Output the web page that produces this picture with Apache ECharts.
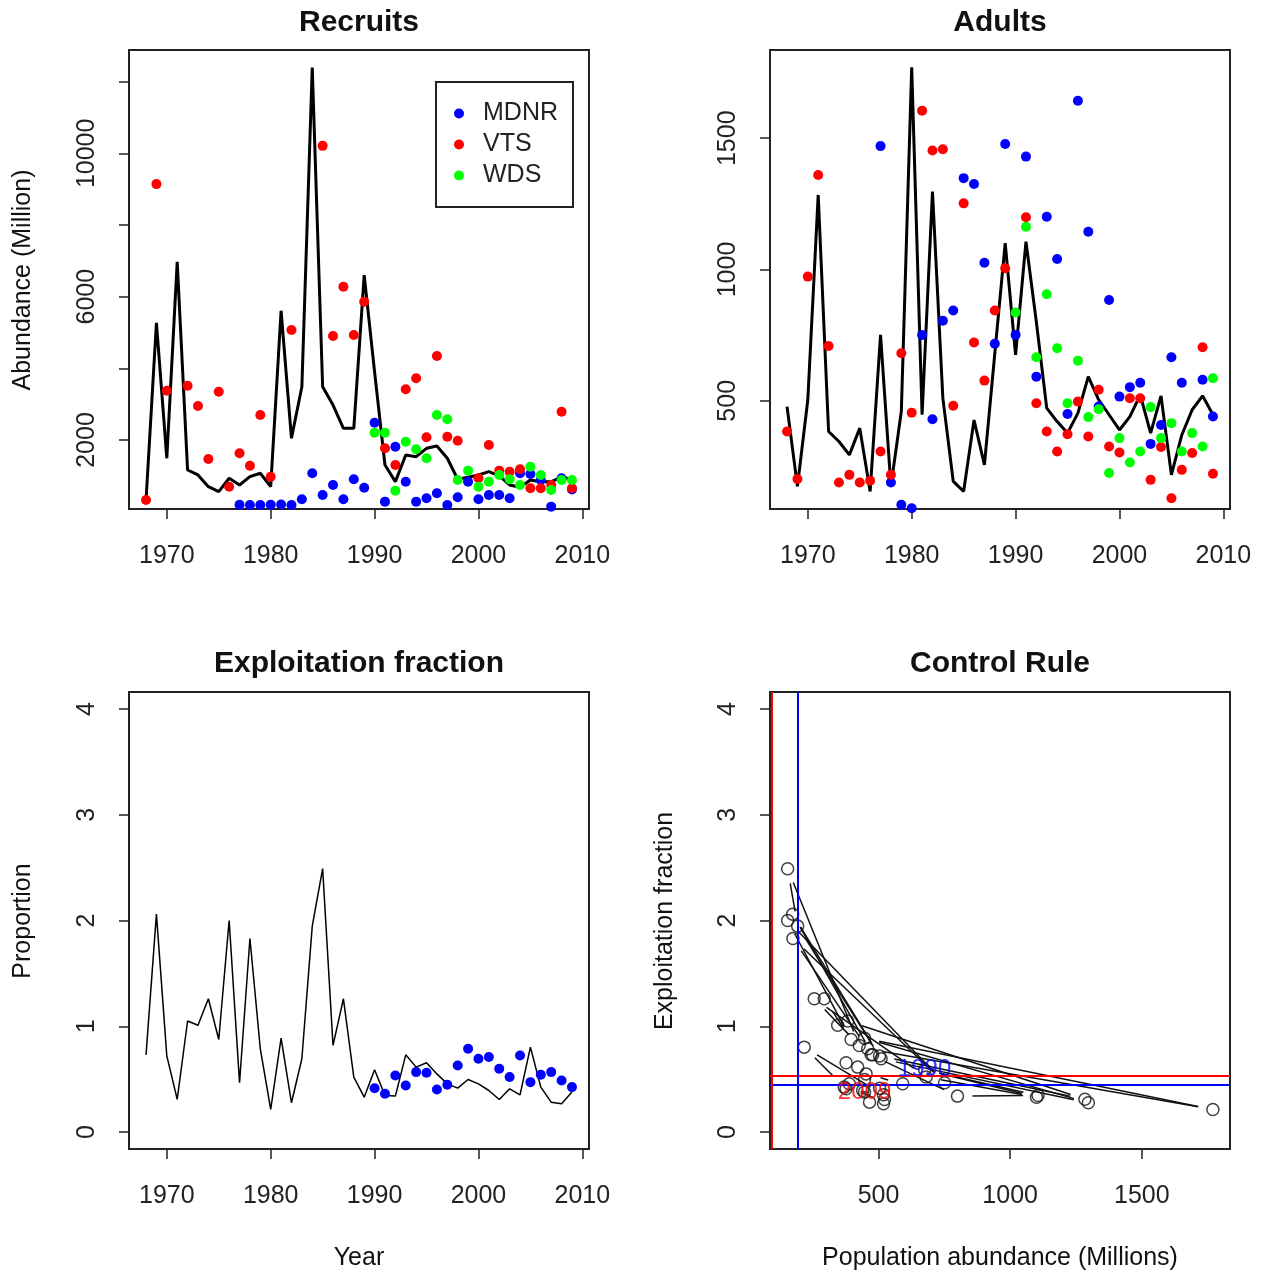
<!DOCTYPE html>
<html><head><meta charset="utf-8">
<script src="https://cdn.jsdelivr.net/npm/echarts@6/dist/echarts.min.js"></script>
<style>html,body{margin:0;padding:0;background:#fff}#c{width:1265px;height:1273px}</style>
</head><body><div id="c"></div>
<script>
// ---------------- DATA ----------------
const years = [1968,1969,1970,1971,1972,1973,1974,1975,1976,1977,1978,1979,1980,1981,1982,1983,1984,1985,1986,1987,1988,1989,
               1990,1991,1992,1993,1994,1995,1996,1997,1998,1999,2000,2001,2002,2003,2004,2005,2006,2007,2008,2009];

// Recruits (Million)
const recruitsModel = [326,5272,1490,6974,1163,1024,697,558,932,745,976,1071,697,5607,2047,3487,12396,3487,2976,2326,2326,6602,
                       3900,1303,837,1582,1534,1768,1833,1490,904,960,1024,1116,996,745,680,884,837,837,960,904];
const recruitsMDNR = [null,null,null,null,null,null,null,null,null,190,185,185,190,200,185,346,1071,466,745,346,904,665,
                      2483,279,1813,837,279,374,513,187,402,837,346,466,466,374,1071,1050,884,140,932,620];
const recruitsVTS = [326,9141,3376,null,3515,2948,1470,3347,697,1628,1283,2697,976,null,5068,null,null,10209,4901,6276,4929,5858,
                     null,1768,1303,3414,3721,2075,4343,2092,1980,null,932,1860,1144,1116,1183,653,653,745,2790,653];
const recruitsWDS = [null,null,null,null,null,null,null,null,null,null,null,null,null,null,null,null,null,null,null,null,null,null,
                     2204,2204,586,1953,1741,1490,2697,2577,884,1144,697,837,1024,904,745,1255,1024,605,884,884];

// Adults (Million)
const adultsModel = [478,174,504,1284,383,345,294,396,155,751,175,459,1770,447,1297,510,193,155,427,256,681,1100,
                     675,1106,800,472,421,377,453,592,504,447,389,440,523,377,519,218,370,466,519,447];
const adultsMDNR = [null,null,null,null,null,null,null,null,null,1470,189,104,91,751,430,805,844,1348,1326,1026,717,1478,
                    751,1430,592,1201,1040,450,1643,1144,478,884,516,552,569,336,408,666,569,null,580,440];
const adultsVTS = [383,202,973,1360,709,189,218,189,196,307,218,681,455,1605,1453,1458,481,1252,722,577,844,1005,
                   null,1199,491,383,307,373,497,364,542,326,303,510,510,199,324,129,237,301,704,222];
const adultsWDS = [null,null,null,null,null,null,null,null,null,null,null,null,null,null,null,null,null,null,null,null,null,null,
                   836,1163,666,906,700,491,653,438,468,225,358,265,307,476,358,415,307,377,326,586];

// Exploitation fraction
const exploitModel = [0.73,2.06,0.72,0.31,1.05,1.01,1.26,0.875,2.0,0.466,1.83,0.787,0.214,0.888,0.277,0.693,1.947,2.49,0.819,1.26,0.52,0.33,
                      0.59,0.346,0.34,0.73,0.614,0.655,0.55,0.456,0.415,0.497,0.456,0.393,0.308,0.409,0.352,0.803,0.425,0.283,0.267,0.378];
const exploitMDNR = [null,null,null,null,null,null,null,null,null,null,null,null,null,null,null,null,null,null,null,null,null,null,
                     0.415,0.362,0.535,0.44,0.567,0.56,0.403,0.447,0.63,0.787,0.693,0.709,0.598,0.52,0.724,0.472,0.542,0.567,0.488,0.425];

// Control rule reference lines and labelled years
const refH = [0.525, 0.453];       // red, blue
const refV = [95, 193];            // red, blue
const refColors = ['#ff0000', '#0000ff'];
const labelYears = [1990, 2009];
const labelColors = ['#0000ff', '#ff0000'];

// Tick labels
const yearTicks = [1970,1980,1990,2000,2010];
const recruitTicks = [2000,4000,6000,8000,10000,12000];
const recruitLabels = [2000,6000,10000];
const adultTicks = [500,1000,1500];
const propTicks = [0,1,2,3,4];
const popTicks = [500,1000,1500];

// ---------------- BUILD ----------------
const FONT = 'Liberation Sans, Arial, sans-serif';
const INK = '#222';
const pairs = (arr) => years.map((y,i)=> arr[i]==null ? null : [y, arr[i]]).filter(d=>d);

const grids = [
  {left:129, top:50, width:460, height:459},
  {left:770, top:50, width:460, height:459},
  {left:129, top:692, width:460, height:457},
  {left:770, top:692, width:460, height:457}
].map(g => Object.assign(g, {show:true, borderColor:INK, borderWidth:2, backgroundColor:'transparent'}));

function axis(gi, min, max, ticks, labels, isY) {
  return {
    type:'value', gridIndex:gi, min:min, max:max,
    axisLine:{show:false, onZero:false},
    splitLine:{show:false},
    axisTick:{show:true, inside:false, length:10, customValues:ticks, lineStyle:{color:INK, width:1.5}},
    axisLabel:{show:true, customValues:labels, margin: isY ? 29 : 35, fontSize:25, fontFamily:FONT, color:INK,
               rotate: isY ? 90 : 0, formatter: v => String(v)}
  };
}

const xAxes = [
  axis(0, 1966.36, 2010.64, yearTicks, yearTicks, false),
  axis(1, 1966.36, 2010.64, yearTicks, yearTicks, false),
  axis(2, 1966.36, 2010.64, yearTicks, yearTicks, false),
  axis(3, 88, 1835, popTicks, popTicks, false)
];
const yAxes = [
  axis(0, 74, 12884, recruitTicks, recruitLabels, true),
  axis(1, 88, 1836, adultTicks, adultTicks, true),
  axis(2, -0.16, 4.16, propTicks, propTicks, true),
  axis(3, -0.16, 4.16, propTicks, propTicks, true)
];

const COL = {MDNR:'#0000ff', VTS:'#ff0000', WDS:'#00ff00'};
function lineS(gi, arr, w) {
  return {type:'line', xAxisIndex:gi, yAxisIndex:gi, data:pairs(arr), showSymbol:false, symbol:'none',
          lineStyle:{color:'#000', width:w}, silent:true, z:2};
}
function dots(gi, name, arr) {
  return {type:'scatter', name:name, xAxisIndex:gi, yAxisIndex:gi, data:pairs(arr), symbol:'circle', symbolSize:10,
          itemStyle:{color:COL[name], opacity:1}, silent:true, z:3};
}

// control rule
const crPoints = adultsModel.map((n,i)=>[n, exploitModel[i]]);
const crSegs = [];
for (let i=0;i<crPoints.length-1;i++) crSegs.push([crPoints[i][0],crPoints[i][1],crPoints[i+1][0],crPoints[i+1][1]]);
const GAP = 15;

const series = [
  lineS(0, recruitsModel, 3),
  dots(0,'MDNR',recruitsMDNR), dots(0,'VTS',recruitsVTS), dots(0,'WDS',recruitsWDS),
  lineS(1, adultsModel, 3),
  dots(1,'MDNR',adultsMDNR), dots(1,'VTS',adultsVTS), dots(1,'WDS',adultsWDS),
  lineS(2, exploitModel, 1.5),
  dots(2,'MDNR',exploitMDNR),
  {
    type:'custom', xAxisIndex:3, yAxisIndex:3, data:crSegs, encode:{x:[0,2], y:[1,3]}, silent:true, clip:true, z:2,
    renderItem:function(params, api){
      const p0 = api.coord([api.value(0), api.value(1)]);
      const p1 = api.coord([api.value(2), api.value(3)]);
      const dx = p1[0]-p0[0], dy = p1[1]-p0[1];
      const len = Math.sqrt(dx*dx+dy*dy);
      if (len <= 2*GAP) return null;
      const ux = dx/len, uy = dy/len;
      return {type:'line', shape:{x1:p0[0]+ux*GAP, y1:p0[1]+uy*GAP, x2:p1[0]-ux*GAP, y2:p1[1]-uy*GAP},
              style:{stroke:'#111', lineWidth:1.5}};
    }
  },
  {
    type:'scatter', xAxisIndex:3, yAxisIndex:3, data:crPoints, symbol:'circle', symbolSize:12, silent:true, z:3,
    itemStyle:{color:'rgba(0,0,0,0)', borderColor:'#111', borderWidth:1.5},
    markLine:{silent:true, symbol:'none', animation:false, label:{show:false},
      data:[
        {yAxis:refH[0], lineStyle:{color:refColors[0], width:2, type:'solid'}},
        {yAxis:refH[1], lineStyle:{color:refColors[1], width:2, type:'solid'}},
        {xAxis:refV[0], lineStyle:{color:refColors[0], width:2, type:'solid'}},
        {xAxis:refV[1], lineStyle:{color:refColors[1], width:2, type:'solid'}}
      ]}
  },
  {
    type:'scatter', xAxisIndex:3, yAxisIndex:3, silent:true, z:5, symbolSize:0,
    data: labelYears.map((y,k)=>{ const i = years.indexOf(y); return {value:[adultsModel[i], exploitModel[i]],
      label:{show:true, position:'inside', formatter:String(y), color:labelColors[k], fontSize:24, fontFamily:FONT}}; })
  }
];

function txt(x,y,s,size,bold,rot){
  return {type:'text', x:x, y:y, rotation:rot||0, silent:true,
          style:{text:s, fontSize:size, fontWeight:bold?'bold':'normal', fontFamily:FONT, fill:'#111', align:'center', verticalAlign:'middle'}};
}

const option = {
  animation:false,
  backgroundColor:'#fff',
  grid: grids, xAxis: xAxes, yAxis: yAxes, series: series,
  legend:{data:['MDNR','VTS','WDS'], orient:'vertical', left:436, top:82, padding:[19,15,19,18],
          itemWidth:10, itemHeight:10, itemGap:6, icon:'circle', selectedMode:false,
          borderColor:INK, borderWidth:2, backgroundColor:'#fff',
          textStyle:{fontSize:25, fontFamily:FONT, color:INK, lineHeight:24, padding:[0,0,0,14]}},
  graphic: [
    txt(359, 23, 'Recruits', 30, true),
    txt(1000, 23, 'Adults', 30, true),
    txt(359, 664, 'Exploitation fraction', 30, true),
    txt(1000, 664, 'Control Rule', 30, true),
    txt(23, 280, 'Abundance (Million)', 25, false, Math.PI/2),
    txt(23, 921, 'Proportion', 25, false, Math.PI/2),
    txt(665, 921, 'Exploitation fraction', 25, false, Math.PI/2),
    txt(359, 1258, 'Year', 25, false),
    txt(1000, 1258, 'Population abundance (Millions)', 25, false)
  ]
};
echarts.init(document.getElementById('c'), null, {renderer:'canvas'}).setOption(option);
</script></body></html>
